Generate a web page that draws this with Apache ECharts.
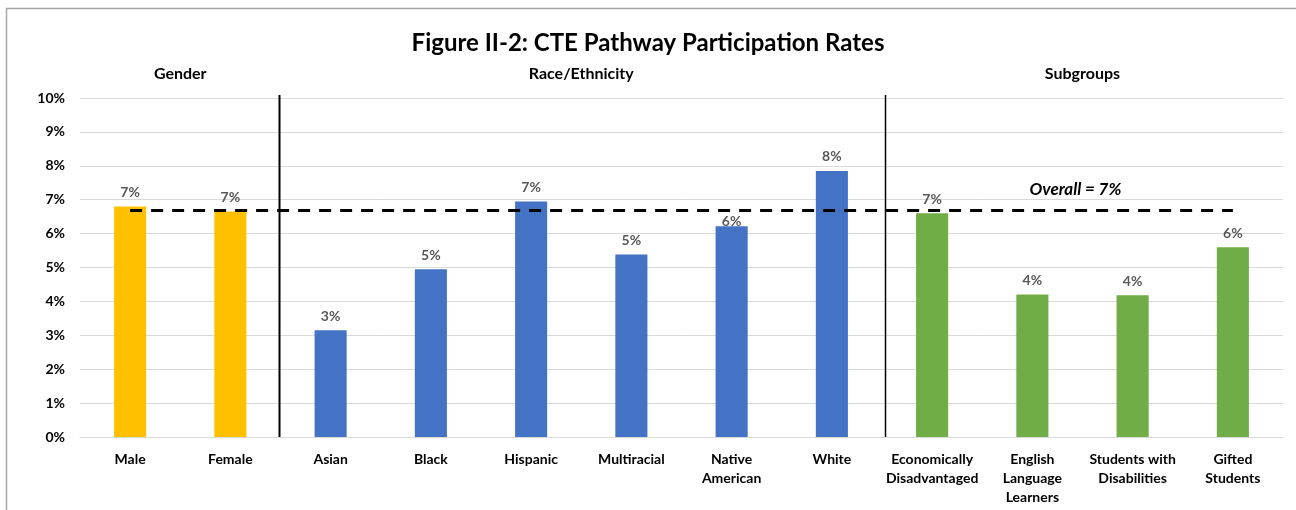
<!DOCTYPE html>
<html>
<head>
<meta charset="utf-8">
<script src="https://cdn.jsdelivr.net/npm/echarts@6/dist/echarts.min.js"></script>
<style>
  html, body { margin: 0; padding: 0; background: #fff; }
  #main { width: 1296px; height: 510px; }
</style>
</head>
<body>
<div id="main"></div>
<script>
// chart data
var categories = ['Male', 'Female', 'Asian', 'Black', 'Hispanic', 'Multiracial',
    'Native\nAmerican', 'White', 'Economically\nDisadvantaged', 'English\nLanguage\nLearners',
    'Students with\nDisabilities', 'Gifted\nStudents'];
var rates = [6.8, 6.65, 3.15, 4.95, 6.95, 5.38, 6.22, 7.85, 6.6, 4.2, 4.18, 5.6];
var barColors = ['#FFC000', '#FFC000', '#4472C4', '#4472C4', '#4472C4', '#4472C4',
    '#4472C4', '#4472C4', '#70AD47', '#70AD47', '#70AD47', '#70AD47'];
var overall = 6.7;
var groupNames = ['Gender', 'Race/Ethnicity', 'Subgroups'];
var groupBounds = [0, 2, 8, 12];   // category index where each group starts/ends
var yTicks = [0, 1, 2, 3, 4, 5, 6, 7, 8, 9, 10];

var FONT = 'Lato, "Open Sans", sans-serif';
var myChart = echarts.init(document.getElementById('main'));

var barData = [];
for (var i = 0; i < rates.length; i++) {
    var item = { value: rates[i], itemStyle: { color: barColors[i] } };
    // Native American label sits just under the overall line, as in the original
    if (i === 6) item.label = { distance: -2 };
    barData.push(item);
}

var option = {
    animation: false,
    textStyle: { fontFamily: FONT },
    title: {
        text: 'Figure II-2: CTE Pathway Participation Rates',
        left: 'center',
        top: 26,
        textStyle: { fontSize: 24, fontWeight: 'bold', color: '#000', fontFamily: FONT }
    },
    grid: { left: 80, right: 13, top: 98, bottom: 73, containLabel: false },
    xAxis: [{
        type: 'category',
        data: categories,
        axisLine: { lineStyle: { color: '#d9d9d9' } },
        axisTick: { show: false },
        axisLabel: {
            color: '#000', fontWeight: 'bold', fontSize: 14, margin: 13,
            lineHeight: 19, interval: 0, fontFamily: FONT, verticalAlign: 'top'
        }
    }, {
        type: 'value', min: 0, max: 12, show: false
    }],
    yAxis: {
        type: 'value',
        min: yTicks[0],
        max: yTicks[yTicks.length - 1],
        interval: 1,
        axisLine: { show: false },
        axisTick: { show: false },
        splitLine: { lineStyle: { color: '#d9d9d9', width: 1 } },
        axisLabel: {
            color: '#000', fontWeight: 'bold', fontSize: 14, margin: 15, fontFamily: FONT,
            formatter: function (v) { return v + '%'; }
        }
    },
    series: [{
        type: 'bar',
        data: barData,
        barWidth: '32%',
        label: {
            show: true, position: 'top', distance: 7,
            color: '#595959', fontWeight: 'bold', fontSize: 14, fontFamily: FONT,
            formatter: function (p) { return Math.round(p.value) + '%'; }
        },
        z: 2,
        markLine: {
            silent: true,
            symbol: 'none',
            z: 3,
            lineStyle: { color: '#000', type: [12, 9], width: 3 },
            label: { show: false },
            data: [[
                { coord: [0, overall] },
                { coord: [categories.length - 1, overall] }
            ]]
        }
    }]
};

myChart.setOption(option);

// headers, separators, overall label and border placed through the chart's scales
var graphics = [{
    type: 'rect',
    shape: { x: 6.5, y: 8.5, width: 1300, height: 520 },
    style: { fill: null, stroke: '#a6a6a6', lineWidth: 1.5 },
    silent: true
}];
for (var g = 0; g < groupNames.length; g++) {
    var mid = (groupBounds[g] + groupBounds[g + 1]) / 2;
    var px = myChart.convertToPixel({ xAxisIndex: 1, yAxisIndex: 0 }, [mid, 0]);
    graphics.push({
        type: 'text',
        x: px[0], y: 74,
        style: {
            text: groupNames[g], fill: '#000', font: 'bold 16px ' + FONT,
            textAlign: 'center', textVerticalAlign: 'middle'
        }
    });
}
for (var s = 1; s < groupBounds.length - 1; s++) {
    var p0 = myChart.convertToPixel({ xAxisIndex: 1, yAxisIndex: 0 }, [groupBounds[s], 0]);
    var p1 = myChart.convertToPixel({ xAxisIndex: 1, yAxisIndex: 0 }, [groupBounds[s], 10]);
    var lx = Math.round(p0[0]) + (s === 1 ? -1.5 : 3.5);
    graphics.push({
        type: 'line',
        shape: { x1: lx, y1: p0[1], x2: lx, y2: p1[1] - 3 },
        style: { stroke: '#000', lineWidth: s === 1 ? 2 : 1.5 },
        z: 5,
        silent: true
    });
}
var op = myChart.convertToPixel({ xAxisIndex: 1, yAxisIndex: 0 }, [9.93, overall]);
graphics.push({
    type: 'text',
    x: op[0], y: op[1] - 20,
    style: {
        text: 'Overall = 7%', fill: '#000', font: 'italic bold 17px ' + FONT,
        textAlign: 'center', textVerticalAlign: 'middle'
    }
});
myChart.setOption({ graphic: graphics });
</script>
</body>
</html>
